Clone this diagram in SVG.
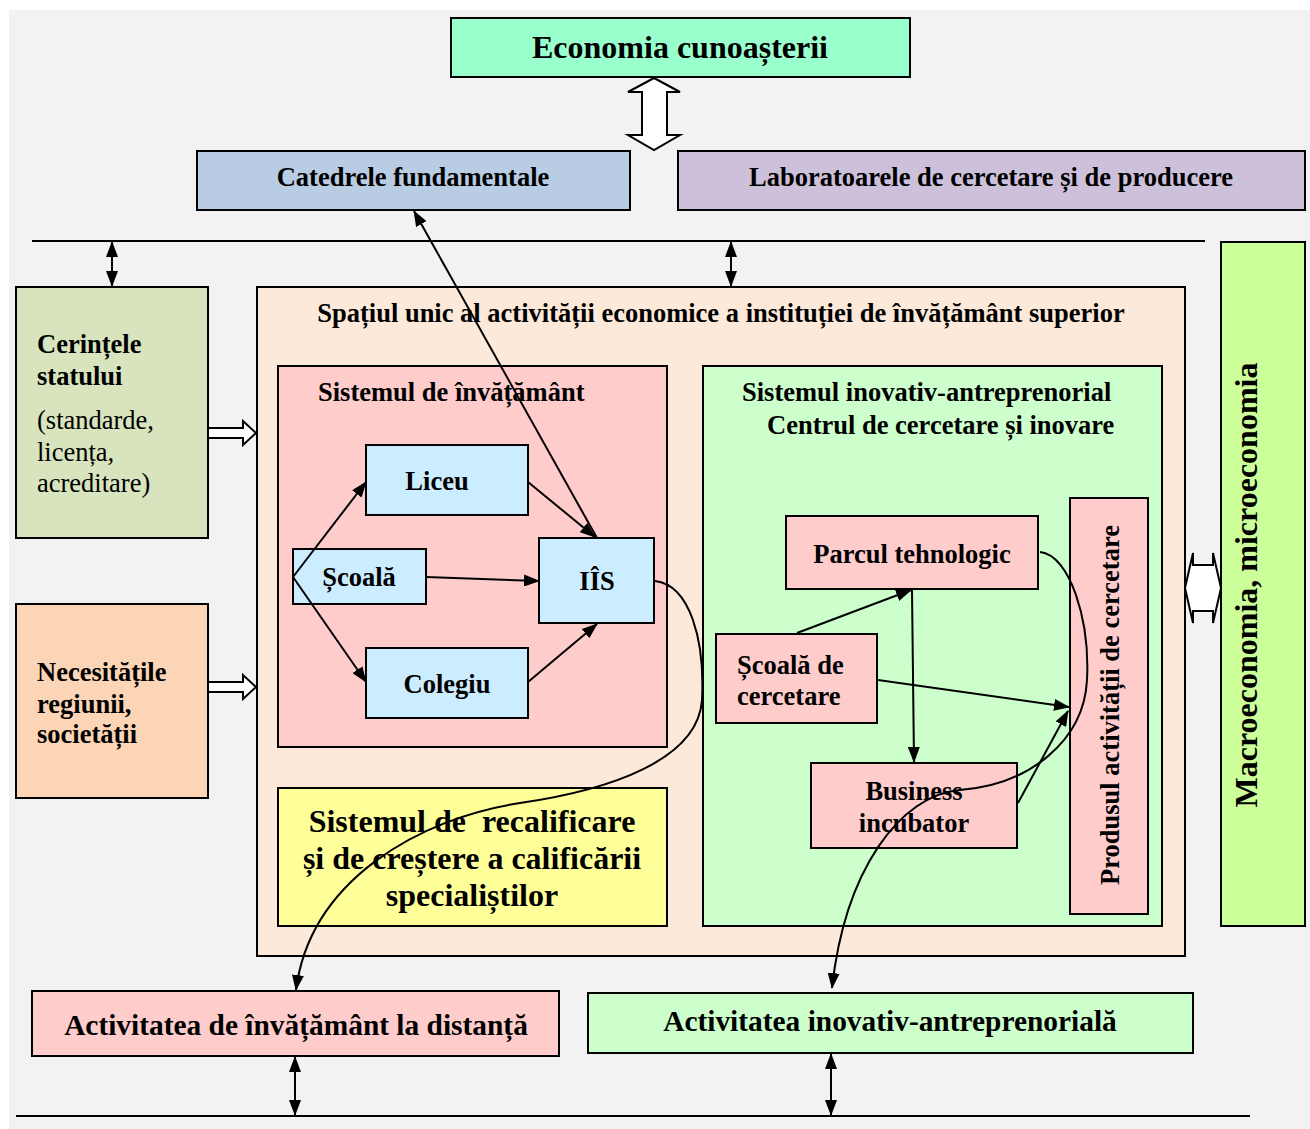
<svg xmlns="http://www.w3.org/2000/svg" width="1310" height="1129" viewBox="0 0 1310 1129">
<defs>
<marker id="ah" markerWidth="16" markerHeight="12" refX="15" refY="6" orient="auto-start-reverse" markerUnits="userSpaceOnUse">
<path d="M0,0 L16,6 L0,12 z" fill="#000"/>
</marker>
<style>
.box{stroke:#000;stroke-width:2}
.t{font-family:"Liberation Serif","Times New Roman",serif;font-weight:bold;fill:#000}
.n{font-family:"Liberation Serif","Times New Roman",serif;fill:#000}
.c{stroke:#000;stroke-width:2;fill:none}
.h{fill:#fff;stroke:#000;stroke-width:2}
</style>
</defs>
<rect x="9" y="10" width="1301" height="1119" fill="#f2f2f2"/>

<g id="economia"><rect class="box" x="451" y="18" width="459" height="59" fill="#99ffcc"/><text class="t" x="680" y="58" font-size="32" text-anchor="middle">Economia cunoașterii</text></g>
<g id="catedrele"><rect class="box" x="197" y="151" width="433" height="59" fill="#b8cce4"/><text class="t" x="413" y="186" font-size="26.5" text-anchor="middle">Catedrele fundamentale</text></g>
<g id="laboratoarele"><rect class="box" x="678" y="151" width="627" height="59" fill="#ccc0da"/><text class="t" x="991" y="186" font-size="26.5" text-anchor="middle">Laboratoarele de cercetare și de producere</text></g>

<g id="cerintele"><rect class="box" x="16" y="287" width="192" height="251" fill="#d7e4bd"/>
<text class="t" x="37" y="353" font-size="26.5">Cerințele</text>
<text class="t" x="37" y="385" font-size="26.5">statului</text>
<text class="n" x="37" y="429" font-size="26.5">(standarde,</text>
<text class="n" x="37" y="461" font-size="26.5">licența,</text>
<text class="n" x="37" y="492" font-size="26.5">acreditare)</text></g>

<g id="necesitatile"><rect class="box" x="16" y="604" width="192" height="194" fill="#fbd5b5"/>
<text class="t" x="37" y="681" font-size="26.5">Necesitățile</text>
<text class="t" x="37" y="713" font-size="26.5">regiunii,</text>
<text class="t" x="37" y="743" font-size="26.5">societății</text></g>

<g id="spatiul"><rect class="box" x="257" y="287" width="928" height="669" fill="#fde9d9"/>
<text class="t" x="721" y="322" font-size="26.5" text-anchor="middle">Spațiul unic al activității economice a instituției de învățământ superior</text></g>

<g id="sistemul-invatamant"><rect class="box" x="278" y="366" width="389" height="381" fill="#ffcccc"/>
<text class="t" x="318" y="401" font-size="26.5">Sistemul de învățământ</text></g>

<g id="liceu"><rect class="box" x="366" y="445" width="162" height="70" fill="#ccecff"/><text class="t" x="437" y="490" font-size="26.5" text-anchor="middle">Liceu</text></g>
<g id="scoala"><rect class="box" x="293" y="549" width="133" height="55" fill="#ccecff"/><text class="t" x="359" y="586" font-size="26.5" text-anchor="middle">Școală</text></g>
<g id="colegiu"><rect class="box" x="366" y="648" width="162" height="70" fill="#ccecff"/><text class="t" x="447" y="693" font-size="26.5" text-anchor="middle">Colegiu</text></g>
<g id="iis"><rect class="box" x="539" y="538" width="115" height="85" fill="#ccecff"/><text class="t" x="597" y="590" font-size="26.5" text-anchor="middle">IÎS</text></g>

<g id="recalificare"><rect class="box" x="278" y="788" width="389" height="138" fill="#ffff99"/>
<text class="t" x="472" y="832" font-size="32" text-anchor="middle" xml:space="preserve">Sistemul de  recalificare</text>
<text class="t" x="472" y="869" font-size="32" text-anchor="middle">și de creștere a calificării</text>
<text class="t" x="472" y="906" font-size="32" text-anchor="middle">specialiștilor</text></g>

<g id="sistemul-inovativ"><rect class="box" x="703" y="366" width="459" height="560" fill="#ccffcc"/>
<text class="t" x="742" y="401" font-size="26.5">Sistemul inovativ-antreprenorial</text>
<text class="t" x="767" y="434" font-size="26.5">Centrul de cercetare și inovare</text></g>

<g id="parcul"><rect class="box" x="786" y="516" width="252" height="73" fill="#ffcccc"/><text class="t" x="912" y="563" font-size="26.5" text-anchor="middle">Parcul tehnologic</text></g>
<g id="scoala-cercetare"><rect class="box" x="716" y="634" width="161" height="89" fill="#ffcccc"/>
<text class="t" x="737" y="674" font-size="26.5">Școală de</text>
<text class="t" x="737" y="705" font-size="26.5">cercetare</text></g>
<g id="business"><rect class="box" x="811" y="763" width="206" height="85" fill="#ffcccc"/>
<text class="t" x="914" y="800" font-size="26.5" text-anchor="middle">Business</text>
<text class="t" x="914" y="832" font-size="26.5" text-anchor="middle">incubator</text></g>
<g id="produsul"><rect class="box" x="1070" y="498" width="78" height="416" fill="#ffcccc"/>
<text class="t" x="0" y="0" font-size="26.5" text-anchor="middle" transform="translate(1119,705) rotate(-90)">Produsul activității de cercetare</text></g>

<g id="macro"><rect class="box" x="1221" y="242" width="84" height="684" fill="#ccff99"/>
<text class="t" x="0" y="0" font-size="32" text-anchor="middle" transform="translate(1257,585) rotate(-90)">Macroeconomia, microeconomia</text></g>

<g id="distanta"><rect class="box" x="32" y="991" width="527" height="65" fill="#ffcccc"/><text class="t" x="296" y="1035" font-size="29.4" text-anchor="middle">Activitatea de învățământ la distanță</text></g>
<g id="inovativ-activ"><rect class="box" x="588" y="993" width="605" height="60" fill="#ccffcc"/><text class="t" x="890" y="1031" font-size="29.4" text-anchor="middle">Activitatea inovativ-antreprenorială</text></g>

<g id="connectors">
<polygon class="h" points="654,78 680,92 667,92 667,135 680,135 654,150 628,135 642,135 642,92 628,92"/>
<line class="c" x1="32" y1="241" x2="1205" y2="241"/>
<line class="c" x1="16" y1="1116" x2="1250" y2="1116" stroke-width="3"/>
<line class="c" x1="112" y1="242" x2="112" y2="286" marker-start="url(#ah)" marker-end="url(#ah)"/>
<line class="c" x1="731" y1="242" x2="731" y2="286" marker-start="url(#ah)" marker-end="url(#ah)"/>
<line class="c" x1="295" y1="1057" x2="295" y2="1115" marker-start="url(#ah)" marker-end="url(#ah)"/>
<line class="c" x1="831" y1="1054" x2="831" y2="1115" marker-start="url(#ah)" marker-end="url(#ah)"/>
<polygon class="h" points="208,428 243,428 243,421 256,433 243,445 243,438 208,438"/>
<polygon class="h" points="208,682 243,682 243,675 256,687 243,699 243,692 208,692"/>
<polygon class="h" points="1185,588 1193,553 1193,565 1213,565 1213,553 1221,588 1213,623 1213,611 1193,611 1193,623"/>
<line class="c" x1="293" y1="577" x2="366" y2="482" marker-end="url(#ah)"/>
<line class="c" x1="293" y1="577" x2="366" y2="682" marker-end="url(#ah)"/>
<line class="c" x1="426" y1="577" x2="539" y2="581" marker-end="url(#ah)"/>
<line class="c" x1="528" y1="482" x2="595" y2="537" marker-end="url(#ah)"/>
<line class="c" x1="528" y1="682" x2="597" y2="624" marker-end="url(#ah)"/>
<line class="c" x1="597" y1="538" x2="414" y2="211" marker-end="url(#ah)"/>
<path class="c" d="M655,581 C690,585 705,640 702,700 C698,760 610,790 520,803 C420,818 310,880 296,990" marker-end="url(#ah)"/>
<line class="c" x1="797" y1="633" x2="911" y2="590" marker-end="url(#ah)"/>
<line class="c" x1="912" y1="590" x2="914" y2="762" marker-end="url(#ah)"/>
<line class="c" x1="878" y1="680" x2="1069" y2="707" marker-end="url(#ah)"/>
<line class="c" x1="1018" y1="803" x2="1068" y2="711" marker-end="url(#ah)"/>
<path class="c" d="M1040,552 C1070,555 1090,620 1087,680 C1084,740 1030,785 960,790 C900,795 845,870 832,988" marker-end="url(#ah)"/>
</g>
</svg>
